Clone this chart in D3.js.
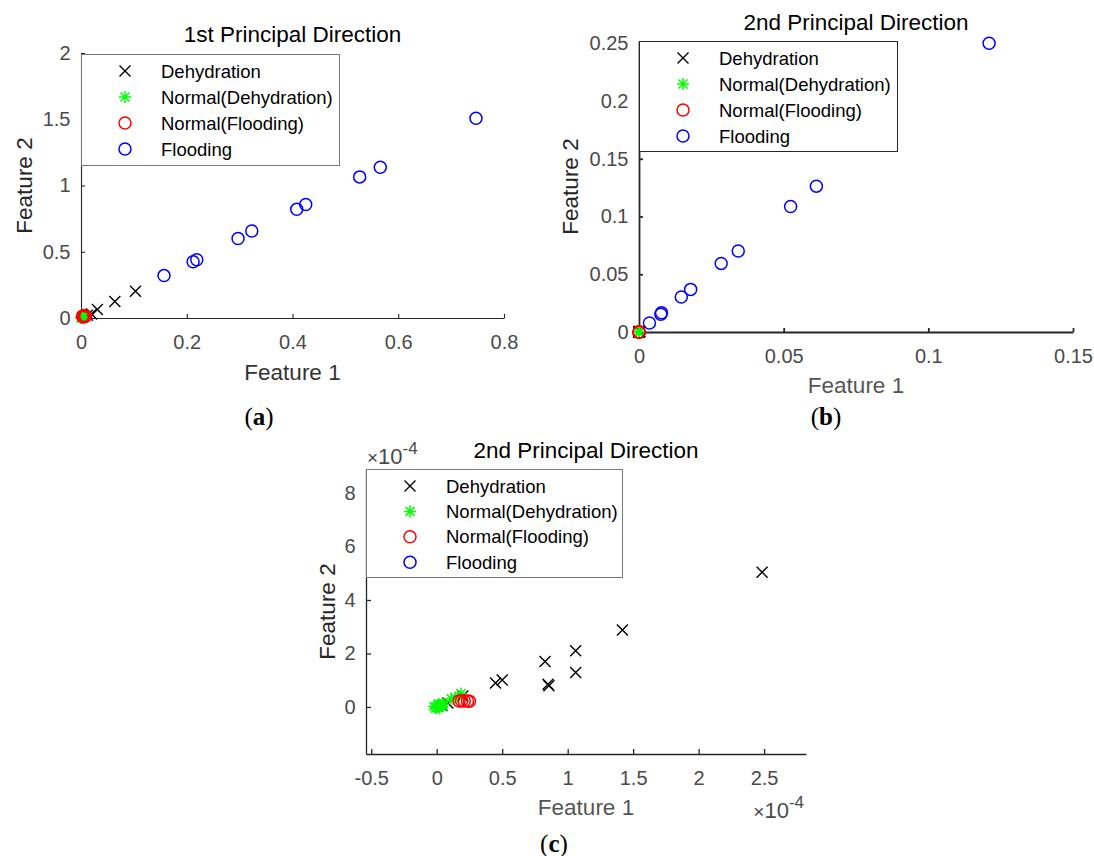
<!DOCTYPE html>
<html>
<head>
<meta charset="utf-8">
<script src="https://cdn.jsdelivr.net/npm/d3@7/dist/d3.min.js"></script>
<style>
  body { margin: 0; background: #fff; }
  svg text { font-family: "Liberation Sans", Arial, sans-serif; }
</style>
</head>
<body>
<svg id="svg" width="1094" height="856"></svg>
<script>
// legend / series names
const seriesNames = ["Dehydration", "Normal(Dehydration)", "Normal(Flooding)", "Flooding"];

// 1st principal direction (panel a), [feature1, feature2]
const pc1Dehydration = [[0.103, 0.202], [0.064, 0.125], [0.031, 0.065], [0.02, 0.03], [0.012, 0.02]];
const pc1NormalDehydration = [[0, 0], [0.002, 0.004], [0.004, 0.008], [0.001, 0.01], [0.005, 0.003]];
const pc1NormalFlooding = [[0.004, 0.008], [0.007, 0.012], [0.009, 0.015], [0.006, 0.018], [0.003, 0.014]];
const pc1Flooding = [[0.157, 0.32], [0.212, 0.425], [0.219, 0.44], [0.297, 0.6], [0.323, 0.657],
  [0.408, 0.82], [0.425, 0.857], [0.527, 1.065], [0.566, 1.138], [0.747, 1.508]];

// 2nd principal direction (panels b, c); these three in units of 1e-4
const pc2Dehydration = [[2.485, 5.04], [1.418, 2.875], [1.061, 2.1], [1.061, 1.29], [0.827, 1.7],
  [0.857, 0.79], [0.85, 0.85], [0.5, 1.01], [0.449, 0.9], [0.199, 0.41], [0.085, 0.15], [0.04, 0.05]];
const pc2NormalDehydration = [[0, 0], [0.01, 0.05], [-0.02, 0.02], [0.02, -0.03], [0.03, 0.08],
  [-0.01, -0.05], [0.04, 0.02], [0.015, 0.12], [0.05, 0.1], [0.005, -0.02], [0.11, 0.31],
  [0.14, 0.35], [0.185, 0.5]];
const pc2NormalFlooding = [[0.17, 0.22], [0.19, 0.23], [0.21, 0.22], [0.235, 0.22], [0.25, 0.21]];
// flooding in real units
const pc2Flooding = [[0.0036, 0.0078], [0.00755, 0.0153], [0.00779, 0.0167], [0.01462, 0.0303],
  [0.01785, 0.0369], [0.0284, 0.0594], [0.0343, 0.0701], [0.0524, 0.1087], [0.0613, 0.1263], [0.121, 0.25]];

// tick labels
const ticksAx = [0, 0.2, 0.4, 0.6, 0.8], ticksAy = [0, 0.5, 1, 1.5, 2];
const ticksBx = [0, 0.05, 0.1, 0.15], ticksBy = [0, 0.05, 0.1, 0.15, 0.2, 0.25];
const ticksCx = [-0.5, 0, 0.5, 1, 1.5, 2, 2.5], ticksCy = [0, 2, 4, 6, 8];

const markerType = ["x", "*", "o", "o"];
const markerColor = ["#000000", "#00ff00", "#ff0000", "#0000ff"];

const E4 = 1e-4;
const scaled = (arr, k) => arr.map(d => [d[0] * k, d[1] * k]);

const svg = d3.select("#svg");

const panels = [
  {
    title: "1st Principal Direction", cap: "a",
    xdom: [0, 0.8], xr: [81, 504], ydom: [0, 2], yr: [318, 53],
    xt: ticksAx, yt: ticksAy,
    data: [pc1Dehydration, pc1NormalDehydration, pc1NormalFlooding, pc1Flooding],
    titleY: 42, xlabY: 380, ylabX: 32, capX: 259, capY: 425,
    axisW: 1.1, tick: 4,
    legend: { x: 81, y: 54, w: 258, h: 111, row: 26, stroke: "#777" },
    labCol1: "#333", labCol2: "#262626"
  },
  {
    title: "2nd Principal Direction", cap: "b",
    xdom: [0, 0.15], xr: [639, 1073], ydom: [0, 0.252], yr: [332, 41],
    xt: ticksBx, yt: ticksBy,
    data: [scaled(pc2Dehydration, E4), scaled(pc2NormalDehydration, E4), scaled(pc2NormalFlooding, E4), pc2Flooding],
    titleY: 30, xlabY: 393, ylabX: 578, capX: 826, capY: 425,
    axisW: 1.8, tick: 4,
    legend: { x: 639, y: 41, w: 258, h: 110, row: 26, stroke: "#262626" },
    labCol1: "#555", labCol2: "#262626"
  },
  {
    title: "2nd Principal Direction", cap: "c",
    xdom: [-0.54, 2.82], xr: [366, 806], ydom: [-1.76, 8.9], yr: [754, 469],
    xt: ticksCx, yt: ticksCy,
    data: [pc2Dehydration, pc2NormalDehydration, pc2NormalFlooding, scaled(pc2Flooding, 1 / E4)],
    titleY: 458, xlabY: 815, ylabX: 335, capX: 554, capY: 852,
    axisW: 1.3, tick: 5, expo: true,
    legend: { x: 366, y: 469, w: 256, h: 108, row: 25.4, stroke: "#777" },
    labCol1: "#555", labCol2: "#262626"
  }
];

function marker(g, type, color) {
  if (type === "o") {
    g.append("circle").attr("r", 6).attr("fill", "none")
      .attr("stroke", color).attr("stroke-width", 1.5);
  } else if (type === "x") {
    g.append("path").attr("d", "M-5.5,-5.5L5.5,5.5M-5.5,5.5L5.5,-5.5")
      .attr("stroke", color).attr("stroke-width", 1.4).attr("fill", "none");
  } else {
    g.append("path").attr("d", "M-6,0H6M0,-6V6M-4.5,-4.5L4.5,4.5M-4.5,4.5L4.5,-4.5")
      .attr("stroke", color).attr("stroke-width", 1.5).attr("fill", "none");
  }
}

function expoLabel(g, xPos, yPos, anchor) {
  const t = g.append("text").attr("x", xPos).attr("y", yPos)
    .attr("text-anchor", anchor).attr("fill", "#4a4a4a").style("font-size", "22px");
  t.append("tspan").style("font-size", "19px").text("×");
  t.append("tspan").text("10");
  t.append("tspan").attr("dy", -10).style("font-size", "17px").text("-4");
}

panels.forEach(p => {
  const x = d3.scaleLinear().domain(p.xdom).range(p.xr);
  const y = d3.scaleLinear().domain(p.ydom).range(p.yr);
  const g = svg.append("g");

  // axes (ticks inward, only left and bottom lines)
  const gx = g.append("g").attr("transform", `translate(0,${p.yr[0]})`)
    .call(d3.axisBottom(x).tickValues(p.xt).tickFormat(d => String(d))
      .tickSizeInner(-p.tick).tickSizeOuter(0).tickPadding(17));
  const gy = g.append("g").attr("transform", `translate(${p.xr[0]},0)`)
    .call(d3.axisLeft(y).tickValues(p.yt).tickFormat(d => String(d))
      .tickSizeInner(-p.tick).tickSizeOuter(0).tickPadding(10.5));
  [gx, gy].forEach(a => {
    a.selectAll(".domain").attr("stroke", "#262626").attr("stroke-width", p.axisW);
    a.selectAll(".tick line").attr("stroke", "#262626").attr("stroke-width", p.axisW);
    a.selectAll(".tick text").attr("fill", "#4a4a4a")
      .style("font-family", "'Liberation Sans', Arial, sans-serif").style("font-size", "20px");
  });

  // points, drawn in legend order
  p.data.forEach((arr, i) => {
    arr.filter(d => d[0] >= p.xdom[0] && d[0] <= p.xdom[1] && d[1] >= p.ydom[0] && d[1] <= p.ydom[1])
      .forEach(d => {
        const m = g.append("g").attr("transform", `translate(${x(d[0])},${y(d[1])})`);
        marker(m, markerType[i], markerColor[i]);
      });
  });

  // title and axis labels
  g.append("text").attr("x", (p.xr[0] + p.xr[1]) / 2).attr("y", p.titleY)
    .attr("text-anchor", "middle").style("font-size", "22.5px").attr("fill", "#000")
    .text(p.title);
  g.append("text").attr("x", (p.xr[0] + p.xr[1]) / 2).attr("y", p.xlabY)
    .attr("text-anchor", "middle").style("font-size", "22.5px").attr("fill", p.labCol1)
    .text("Feature 1");
  g.append("text")
    .attr("transform", `translate(${p.ylabX},${(p.yr[0] + p.yr[1]) / 2}) rotate(-90)`)
    .attr("text-anchor", "middle").style("font-size", "22.5px").attr("fill", p.labCol2)
    .text("Feature 2");

  // exponent labels
  if (p.expo) {
    expoLabel(g, p.xr[0] + 1, p.yr[1] - 5, "start");
    expoLabel(g, p.xr[1] - 2, p.xlabY + 3, "end");
  }

  // legend
  const L = p.legend;
  const lg = g.append("g").attr("transform", `translate(${L.x},${L.y})`);
  lg.append("rect").attr("x", 0.5).attr("y", 0.5).attr("width", L.w).attr("height", L.h)
    .attr("fill", "#fff").attr("stroke", L.stroke).attr("stroke-width", 1);
  seriesNames.forEach((name, i) => {
    const ry = 17 + i * L.row;
    const m = lg.append("g").attr("transform", `translate(44,${ry})`);
    marker(m, markerType[i], markerColor[i]);
    lg.append("text").attr("x", 80).attr("y", ry).attr("dy", "0.36em")
      .style("font-size", "18.5px").attr("fill", "#000").text(name);
  });

  // panel caption
  const c = g.append("text").attr("x", p.capX).attr("y", p.capY).attr("text-anchor", "middle")
    .style("font-family", "'Liberation Serif', 'Times New Roman', serif").style("font-size", "25px")
    .attr("fill", "#000");
  c.append("tspan").text("(");
  c.append("tspan").style("font-weight", "bold").text(p.cap);
  c.append("tspan").text(")");
});
</script>
</body>
</html>
